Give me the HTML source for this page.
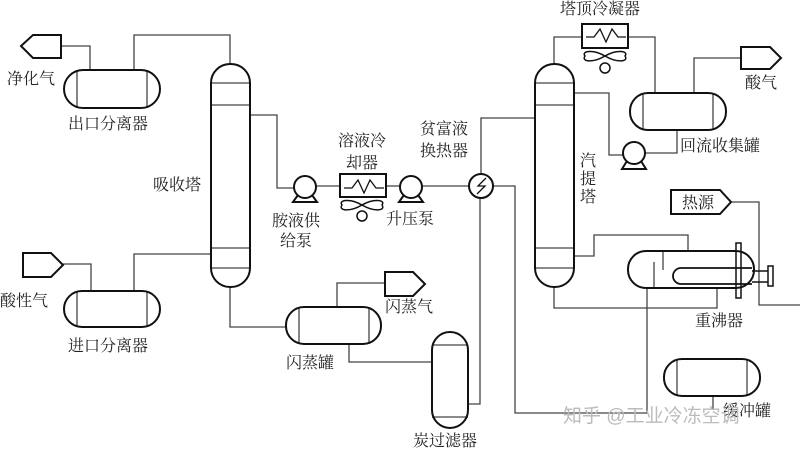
<!DOCTYPE html>
<html><head><meta charset="utf-8"><style>
body{margin:0;background:#fff}
svg{display:block}
text{font-family:"Liberation Serif","Noto Serif CJK SC",serif;font-size:16px;fill:#222}
</style></head><body>
<svg width="800" height="452" viewBox="0 0 800 452">
<g fill="none" stroke="#444" stroke-width="1.3">
<polyline points="90,70 90,46 61,46"/>
<polyline points="134,70 134,35 230,35 230,64"/>
<polyline points="91,291 91,264 63,264"/>
<polyline points="134,291 134,254 211,254"/>
<polyline points="250,115 277,115 277,188 294,188"/>
<polyline points="316,186 340,186"/>
<polyline points="386,186 400,186"/>
<polyline points="422,186 469,186"/>
<polyline points="230,287 230,327 286,327"/>
<polyline points="337,307 337,283 385,283"/>
<polyline points="349,344 349,362 432,362"/>
<polyline points="468,404 480,404 480,198"/>
<polyline points="481,174 481,118 535,118"/>
<polyline points="493,186 515,186 515,413 647,413 647,288"/>
<polyline points="554,64 554,37 582,37"/>
<polyline points="628,37 655,37 655,93"/>
<polyline points="694,93 694,58 740,58"/>
<polyline points="677,130 677,153 645,153"/>
<polyline points="574,93 609,93 609,155 623,155"/>
<polyline points="731,202 759,202 759,305 800,305"/>
<polyline points="574,256 594,256 594,235 688,235 688,251"/>
<polyline points="554,287 554,308 717,308 717,288"/>
<polyline points="713,396 713,410"/>
<line x1="77" y1="70" x2="77" y2="108"/><line x1="147" y1="70" x2="147" y2="108"/>
<line x1="77" y1="291" x2="77" y2="327"/><line x1="147" y1="291" x2="147" y2="327"/>
<line x1="299" y1="307" x2="299" y2="344"/><line x1="369" y1="307" x2="369" y2="344"/>
<line x1="643" y1="93" x2="643" y2="130"/><line x1="713" y1="93" x2="713" y2="130"/>
<line x1="677" y1="359" x2="677" y2="396"/><line x1="747" y1="359" x2="747" y2="396"/>
<line x1="211" y1="83" x2="250" y2="83"/><line x1="211" y1="105" x2="250" y2="105"/>
<line x1="211" y1="248" x2="250" y2="248"/><line x1="211" y1="268" x2="250" y2="268"/>
<line x1="535" y1="83" x2="574" y2="83"/><line x1="535" y1="105" x2="574" y2="105"/>
<line x1="535" y1="248" x2="574" y2="248"/><line x1="535" y1="268" x2="574" y2="268"/>
<line x1="432" y1="345" x2="468" y2="345"/><line x1="432" y1="417" x2="468" y2="417"/>
<line x1="654" y1="262" x2="654" y2="288"/><line x1="663" y1="251" x2="663" y2="270"/>
</g>
<g fill="none" stroke="#111" stroke-width="2">
<polygon points="33,35 61,35 61,58 33,58 21,46"/>
<polygon points="23,253 51,253 63,265 51,277 23,277"/>
<polygon points="385,272 413,272 425,284 413,296 385,296"/>
<polygon points="741,47 770,47 781,58 770,69 741,69"/>
<polygon points="671,190 720,190 731,202 720,214 671,214"/>
<rect x="64" y="70" width="96" height="38" rx="19"/>
<rect x="64" y="291" width="96" height="36" rx="18"/>
<rect x="286" y="307" width="95" height="37" rx="18"/>
<rect x="630" y="93" width="96" height="37" rx="18"/>
<rect x="664" y="359" width="96" height="37" rx="18"/>
<rect x="628" y="251" width="126" height="37" rx="18"/>
<rect x="211" y="64" width="39" height="223" rx="19"/>
<rect x="535" y="64" width="39" height="223" rx="19"/>
<rect x="432" y="332" width="36" height="96" rx="18"/>
<rect x="736" y="243" width="5" height="55" stroke-width="1.5"/>
<path d="M752,268 H681 a8,8 0 0 0 0,16 H752" stroke-width="1.8"/>
<path d="M752,271 H768 M752,282 H768" stroke-width="1.5"/>
<rect x="768" y="266" width="5" height="20" stroke-width="1.5"/>
<circle cx="305" cy="187" r="11"/><path d="M298,195 L293,202 H317 L312,195"/>
<circle cx="411" cy="187" r="11"/><path d="M404,195 L399,202 H423 L418,195"/>
<circle cx="634" cy="153" r="11"/><path d="M627,161 L622,169 H646 L641,161"/>
<circle cx="481" cy="186" r="12"/>
<path d="M486,178 L478,186 L485,186 L477,194" stroke-width="1.3"/>
<rect x="340" y="174" width="46" height="23"/>
<path d="M344,188 L352,188 L358,180 L364,193 L370,180 L376,188 L384,188" stroke-width="1.3"/>
<path d="M362,205 C350,198 338,200 342,205 C338,211 350,212 362,205 C374,198 386,200 382,205 C386,211 374,212 362,205 Z" stroke-width="1.5"/>
<circle cx="362" cy="216" r="5" stroke-width="1.5"/>
<rect x="582" y="24" width="46" height="24"/>
<path d="M586,37 L594,37 L600,29 L606,42 L612,29 L618,37 L626,37" stroke-width="1.3"/>
<path d="M605,56 C593,49 581,51 585,56 C581,62 593,63 605,56 C617,49 629,51 625,56 C629,62 617,63 605,56 Z" stroke-width="1.5"/>
<circle cx="605" cy="68" r="5" stroke-width="1.5"/>
</g>
<text x="7" y="84">净化气</text>
<text x="68" y="129">出口分离器</text>
<text x="153" y="190">吸收塔</text>
<text x="0" y="306">酸性气</text>
<text x="68" y="351">进口分离器</text>
<text x="272" y="226">胺液供</text>
<text x="280" y="246">给泵</text>
<text x="338" y="146">溶液冷</text>
<text x="346" y="168">却器</text>
<text x="386" y="224">升压泵</text>
<text x="420" y="134">贫富液</text>
<text x="420" y="156">换热器</text>
<text x="385" y="312">闪蒸气</text>
<text x="286" y="368">闪蒸罐</text>
<text x="413" y="446">炭过滤器</text>
<text x="560" y="14">塔顶冷凝器</text>
<text x="745" y="88">酸气</text>
<text x="680" y="151">回流收集罐</text>
<text x="580" y="166">汽</text>
<text x="580" y="184">提</text>
<text x="580" y="202">塔</text>
<text x="682" y="208">热源</text>
<text x="695" y="326">重沸器</text>
<text x="723" y="416">缓冲罐</text>
<text x="563" y="422" style="font-size:19px;fill:#bbb;font-family:'Liberation Sans','Noto Sans CJK SC',sans-serif">知乎 @工业冷冻空调</text>
</svg>
</body></html>
